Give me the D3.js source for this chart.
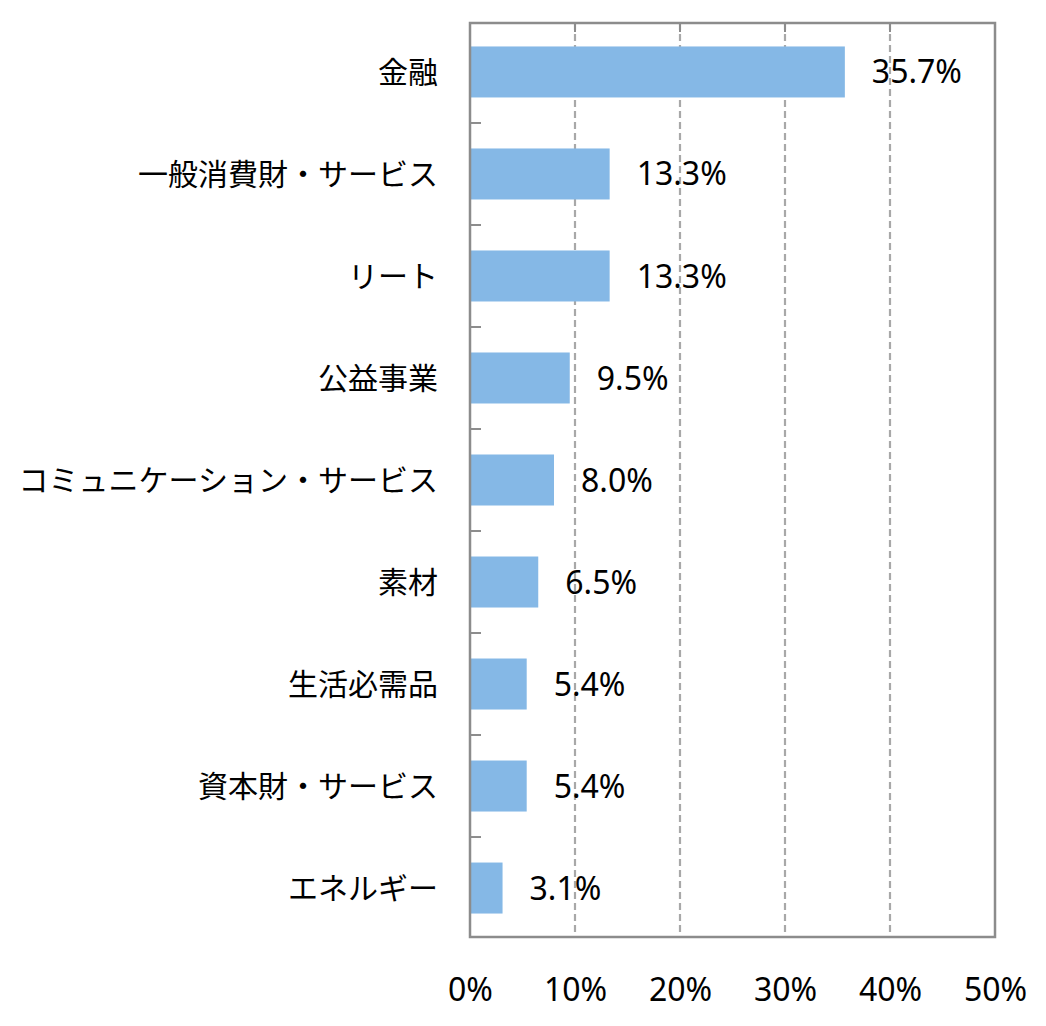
<!DOCTYPE html>
<html>
<head>
<meta charset="utf-8">
<script src="https://cdn.jsdelivr.net/npm/d3@7"></script>
<style>
  body { margin: 0; background: #fff; }
  text { font-family: "Noto Sans CJK JP", "Noto Sans", sans-serif; fill: #000; }
  text.num { font-family: "Noto Sans", "Noto Sans CJK JP", sans-serif; }
</style>
</head>
<body>
<div id="chart"></div>
<script>
var sectors = ["金融", "一般消費財・サービス", "リート", "公益事業", "コミュニケーション・サービス", "素材", "生活必需品", "資本財・サービス", "エネルギー"];
var weights = [35.7, 13.3, 13.3, 9.5, 8.0, 6.5, 5.4, 5.4, 3.1];
var xTicks = [0, 10, 20, 30, 40, 50];

var width = 1046, height = 1026;
var margin = { top: 23, right: 51, bottom: 89, left: 470 };

var svg = d3.select("#chart").append("svg")
    .attr("width", width)
    .attr("height", height);

var x = d3.scaleLinear()
    .domain([0, 50])
    .range([margin.left, width - margin.right]);

var y = d3.scaleBand()
    .domain(sectors)
    .range([margin.top, height - margin.bottom])
    .paddingInner(0.5)
    .paddingOuter(0.23);

// grid lines
svg.append("g")
    .selectAll("line")
    .data(xTicks.slice(1, -1))
    .enter().append("line")
    .attr("x1", function(d) { return x(d); })
    .attr("x2", function(d) { return x(d); })
    .attr("y1", margin.top)
    .attr("y2", height - margin.bottom)
    .attr("stroke", "#a8a8a8")
    .attr("stroke-width", 2.2)
    .attr("stroke-dasharray", "7,4");

// small ticks on top edge
svg.append("g")
    .selectAll("line")
    .data(xTicks.slice(1, -1))
    .enter().append("line")
    .attr("x1", function(d) { return x(d); })
    .attr("x2", function(d) { return x(d); })
    .attr("y1", margin.top)
    .attr("y2", margin.top + 9)
    .attr("stroke", "#8c8c8c")
    .attr("stroke-width", 2);

// bars
svg.append("g")
    .selectAll("rect")
    .data(sectors)
    .enter().append("rect")
    .attr("x", x(0))
    .attr("y", function(d) { return y(d); })
    .attr("width", function(d, i) { return x(weights[i]) - x(0); })
    .attr("height", y.bandwidth())
    .attr("fill", "#85b8e6");

// value labels
svg.append("g")
    .selectAll("text")
    .data(sectors)
    .enter().append("text")
    .attr("class", "num")
    .attr("x", function(d, i) { return x(weights[i]) + 27; })
    .attr("y", function(d) { return y(d) + y.bandwidth() / 2; })
    .attr("dy", "0.36em")
    .attr("font-size", 32)
    .text(function(d, i) { return weights[i].toFixed(1) + "%"; });

// frame
svg.append("rect")
    .attr("x", margin.left)
    .attr("y", margin.top)
    .attr("width", width - margin.right - margin.left)
    .attr("height", height - margin.bottom - margin.top)
    .attr("fill", "none")
    .attr("stroke", "#8c8c8c")
    .attr("stroke-width", 2.5);

// y axis with inward ticks at category boundaries
var step = y.step();
var boundaries = sectors.slice(1).map(function(d) { return y(d) - step * y.paddingInner() / 2; });
svg.append("g")
    .selectAll("line")
    .data(boundaries)
    .enter().append("line")
    .attr("x1", margin.left)
    .attr("x2", margin.left + 11)
    .attr("y1", function(d) { return d; })
    .attr("y2", function(d) { return d; })
    .attr("stroke", "#8c8c8c")
    .attr("stroke-width", 2);

svg.append("g")
    .selectAll("text")
    .data(sectors)
    .enter().append("text")
    .attr("x", margin.left - 32)
    .attr("y", function(d) { return y(d) + y.bandwidth() / 2; })
    .attr("dy", "0.36em")
    .attr("text-anchor", "end")
    .attr("font-size", 30)
    .text(function(d) { return d; });

// x axis labels at the bottom
var xAxis = svg.append("g")
    .attr("transform", "translate(0," + (height - margin.bottom + 52) + ")")
    .call(d3.axisBottom(x).tickValues(xTicks).tickSize(0).tickFormat(function(d) { return d + "%"; }));
xAxis.select(".domain").remove();
xAxis.selectAll("text")
    .attr("class", "num")
    .attr("font-size", 32)
    .attr("font-family", null)
    .attr("fill", "#000")
    .attr("dy", "0.36em")
    .attr("y", 0);
</script>
</body>
</html>
